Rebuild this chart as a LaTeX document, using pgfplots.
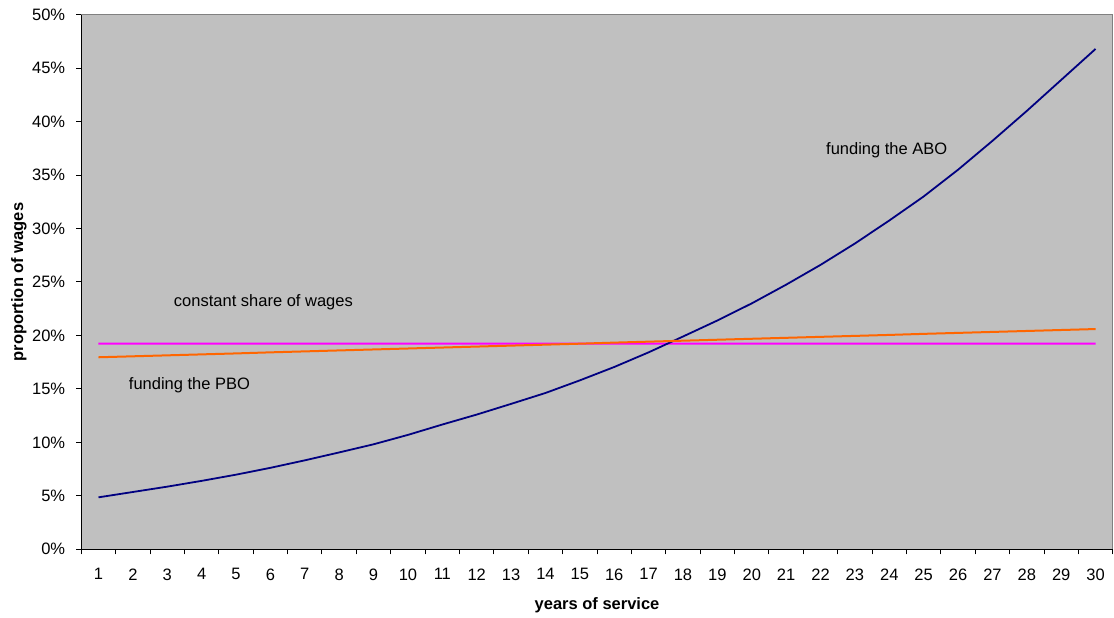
\documentclass[border=0pt]{standalone}
\usepackage{fontspec}
\setmainfont{Liberation Sans}
\usepackage{pgfplots}
\usepackage{pgfplotstable}
\pgfplotsset{compat=1.18}
\definecolor{bgC}{HTML}{C0C0C0}
\definecolor{frameC}{HTML}{808080}
\definecolor{aboC}{HTML}{000080}
\definecolor{pboC}{HTML}{FF6600}
\definecolor{magC}{RGB}{255,0,255}
\newcommand\fs{\fontsize{16.5bp}{19.8bp}\selectfont}

\pgfplotstableread{
x y
1 4.86
2 5.36
3 5.86
4 6.40
5 6.98
6 7.62
7 8.32
8 9.06
9 9.82
10 10.70
11 11.67
12 12.60
13 13.60
14 14.62
15 15.80
16 17.05
17 18.42
18 19.90
19 21.40
20 23.00
21 24.75
22 26.60
23 28.60
24 30.75
25 33.00
26 35.50
27 38.20
28 41.00
29 43.90
30 46.80
}\abotab

\pgfplotstableread{
x y
1 17.96
2 18.05
3 18.14
4 18.23
5 18.32
6 18.42
7 18.51
8 18.60
9 18.69
10 18.78
11 18.87
12 18.96
13 19.05
14 19.14
15 19.23
16 19.33
17 19.42
18 19.51
19 19.60
20 19.69
21 19.78
22 19.87
23 19.96
24 20.05
25 20.15
26 20.24
27 20.33
28 20.42
29 20.51
30 20.60
}\pbotab

\pgfplotstableread{
x y
1 19.23
2 19.23
3 19.23
4 19.23
5 19.23
6 19.23
7 19.23
8 19.23
9 19.23
10 19.23
11 19.23
12 19.23
13 19.23
14 19.23
15 19.23
16 19.23
17 19.23
18 19.23
19 19.23
20 19.23
21 19.23
22 19.23
23 19.23
24 19.23
25 19.23
26 19.23
27 19.23
28 19.23
29 19.23
30 19.24
}\sharetab

\begin{document}
\begin{tikzpicture}
\path[use as bounding box] (0,0) rectangle (1114bp,618bp);
\begin{axis}[
  at={(81.3bp,68.7bp)}, anchor=south west,
  scale only axis, width=1031.5bp, height=534.6bp,
  xmin=0.5, xmax=30.5, ymin=0, ymax=50,
  axis background/.style={fill=bgC},
  axis line style={draw=frameC, line width=1bp},
  tick pos=left, tick align=outside,
  major tick length=5bp, minor tick length=5bp,
  every tick/.style={black, line width=1bp},
  xtick={1,...,30},
  xticklabels={1,2,3,4,5,6,7,8,9,10,11,12,13,14,15,16,17,18,19,20,21,22,23,24,25,26,27,28,29,30},
  major x tick style={draw=none},
  minor xtick={0.5,1.5,...,30.5},
  ytick={0,5,...,50},
  yticklabels={0\%,5\%,10\%,15\%,20\%,25\%,30\%,35\%,40\%,45\%,50\%},
  xticklabel style={font=\fs, anchor=north, inner sep=0pt, yshift=-14bp},
  yticklabel style={font=\fs, anchor=east, inner sep=0pt, xshift=-11bp},
  xlabel={years of service},
  ylabel={proportion of wages},
  xlabel style={font=\fs\bfseries, at={(axis description cs:0.5,0)}, anchor=north, inner sep=0pt, yshift=-48.5bp},
  ylabel style={font=\fs\bfseries, at={(axis description cs:-0.0606,0.5)}, anchor=center, inner sep=0pt},
  clip=false,
]
\addplot[color=magC, line width=2bp, mark=none] table[x=x,y=y] {\sharetab};
\addplot[color=aboC, line width=1.8bp, mark=none] table[x=x,y=y] {\abotab};
\addplot[color=pboC, line width=2bp, mark=none] table[x=x,y=y] {\pbotab};
\draw[black, line width=1bp] (rel axis cs:0,1) -- (rel axis cs:0,0) -- (rel axis cs:1,0);
\node[font=\fs, anchor=base west, inner sep=0pt] at (axis cs:22.16,36.9) {funding the ABO};
\node[font=\fs, anchor=base west, inner sep=0pt] at (axis cs:3.19,22.7) {constant share of wages};
\node[font=\fs, anchor=base west, inner sep=0pt] at (axis cs:1.88,14.9) {funding the PBO};
\end{axis}
\end{tikzpicture}
\end{document}
